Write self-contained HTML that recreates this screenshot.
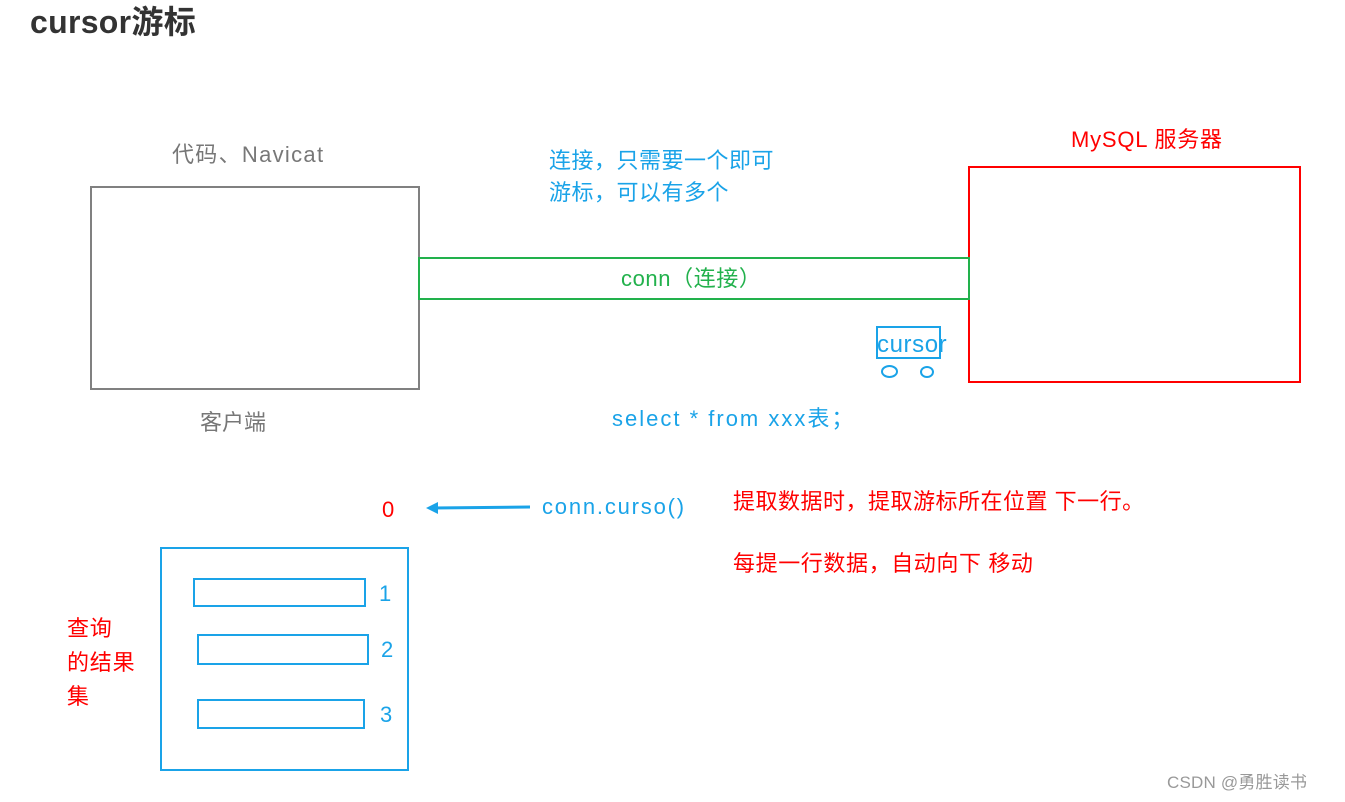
<!DOCTYPE html>
<html><head><meta charset="utf-8"><style>
body{margin:0;width:1345px;height:802px;background:#fff;position:relative;overflow:hidden;font-family:"Liberation Sans","Noto Sans CJK SC",sans-serif}
.t{position:absolute;white-space:nowrap;line-height:1}
.b{position:absolute;box-sizing:border-box}
</style></head><body>
<div class="t" style="left:30px;top:6px;font-size:32px;font-weight:bold;color:#333;letter-spacing:0.3px">cursor游标</div>
<div class="t" style="left:172px;top:144px;font-size:22px;color:#777;letter-spacing:1.3px">代码、Navicat</div>
<div class="b" style="left:90px;top:186px;width:330px;height:204px;border:2px solid #808080"></div>
<div class="t" style="left:200px;top:412px;font-size:22px;color:#777">客户端</div>
<div class="t" style="left:549px;top:145px;font-size:22px;color:#1aa3e8;line-height:32px;letter-spacing:0.5px">连接，只需要一个即可<br>游标，可以有多个</div>
<div class="t" style="left:1071px;top:129px;font-size:22px;color:#f00;letter-spacing:0.8px">MySQL 服务器</div>
<div class="b" style="left:968px;top:166px;width:333px;height:217px;border:2px solid #f00"></div>
<div class="b" style="left:418px;top:257px;width:552px;height:43px;border:2px solid #22b14c"></div>
<div class="t" style="left:621px;top:268px;font-size:22px;color:#22b14c;letter-spacing:0.6px">conn（连接）</div>
<div class="b" style="left:876px;top:326px;width:65px;height:33px;border:2px solid #1aa3e8"></div>
<div class="t" style="left:877px;top:333px;font-size:24px;color:#1aa3e8;letter-spacing:0.6px">cursor</div>
<div class="b" style="left:881px;top:365px;width:17px;height:13px;border:2px solid #1aa3e8;border-radius:50%"></div>
<div class="b" style="left:920px;top:366px;width:14px;height:12px;border:2px solid #1aa3e8;border-radius:50%"></div>
<div class="t" style="left:612px;top:408px;font-size:22px;color:#1aa3e8;letter-spacing:2px">select * from xxx表；</div>
<div class="t" style="left:382px;top:499px;font-size:22px;color:#f00">0</div>
<svg style="position:absolute;left:0;top:0" width="1345" height="802"><line x1="433" y1="508" x2="530" y2="507" stroke="#1aa3e8" stroke-width="3"/><polygon points="426,508 438,502 438,514" fill="#1aa3e8"/></svg>
<div class="t" style="left:542px;top:496px;font-size:22px;color:#1aa3e8;letter-spacing:1.8px">conn.curso()</div>
<div class="t" style="left:733px;top:491px;font-size:22px;color:#f00;letter-spacing:0.5px">提取数据时，提取游标所在位置 下一行。</div>
<div class="t" style="left:733px;top:553px;font-size:22px;color:#f00;letter-spacing:0.6px">每提一行数据，自动向下 移动</div>
<div class="b" style="left:160px;top:547px;width:249px;height:224px;border:2px solid #1aa3e8"></div>
<div class="b" style="left:193px;top:578px;width:173px;height:29px;border:2px solid #1aa3e8"></div>
<div class="b" style="left:197px;top:634px;width:172px;height:31px;border:2px solid #1aa3e8"></div>
<div class="b" style="left:197px;top:699px;width:168px;height:30px;border:2px solid #1aa3e8"></div>
<div class="t" style="left:379px;top:583px;font-size:22px;color:#1aa3e8">1</div>
<div class="t" style="left:381px;top:639px;font-size:22px;color:#1aa3e8">2</div>
<div class="t" style="left:380px;top:704px;font-size:22px;color:#1aa3e8">3</div>
<div class="t" style="left:67px;top:612px;font-size:22px;color:#f00;line-height:34px;letter-spacing:0.8px">查询<br>的结果<br>集</div>
<div class="t" style="left:1167px;top:774px;font-size:17px;color:#999;letter-spacing:0.2px">CSDN @勇胜读书</div>
</body></html>
